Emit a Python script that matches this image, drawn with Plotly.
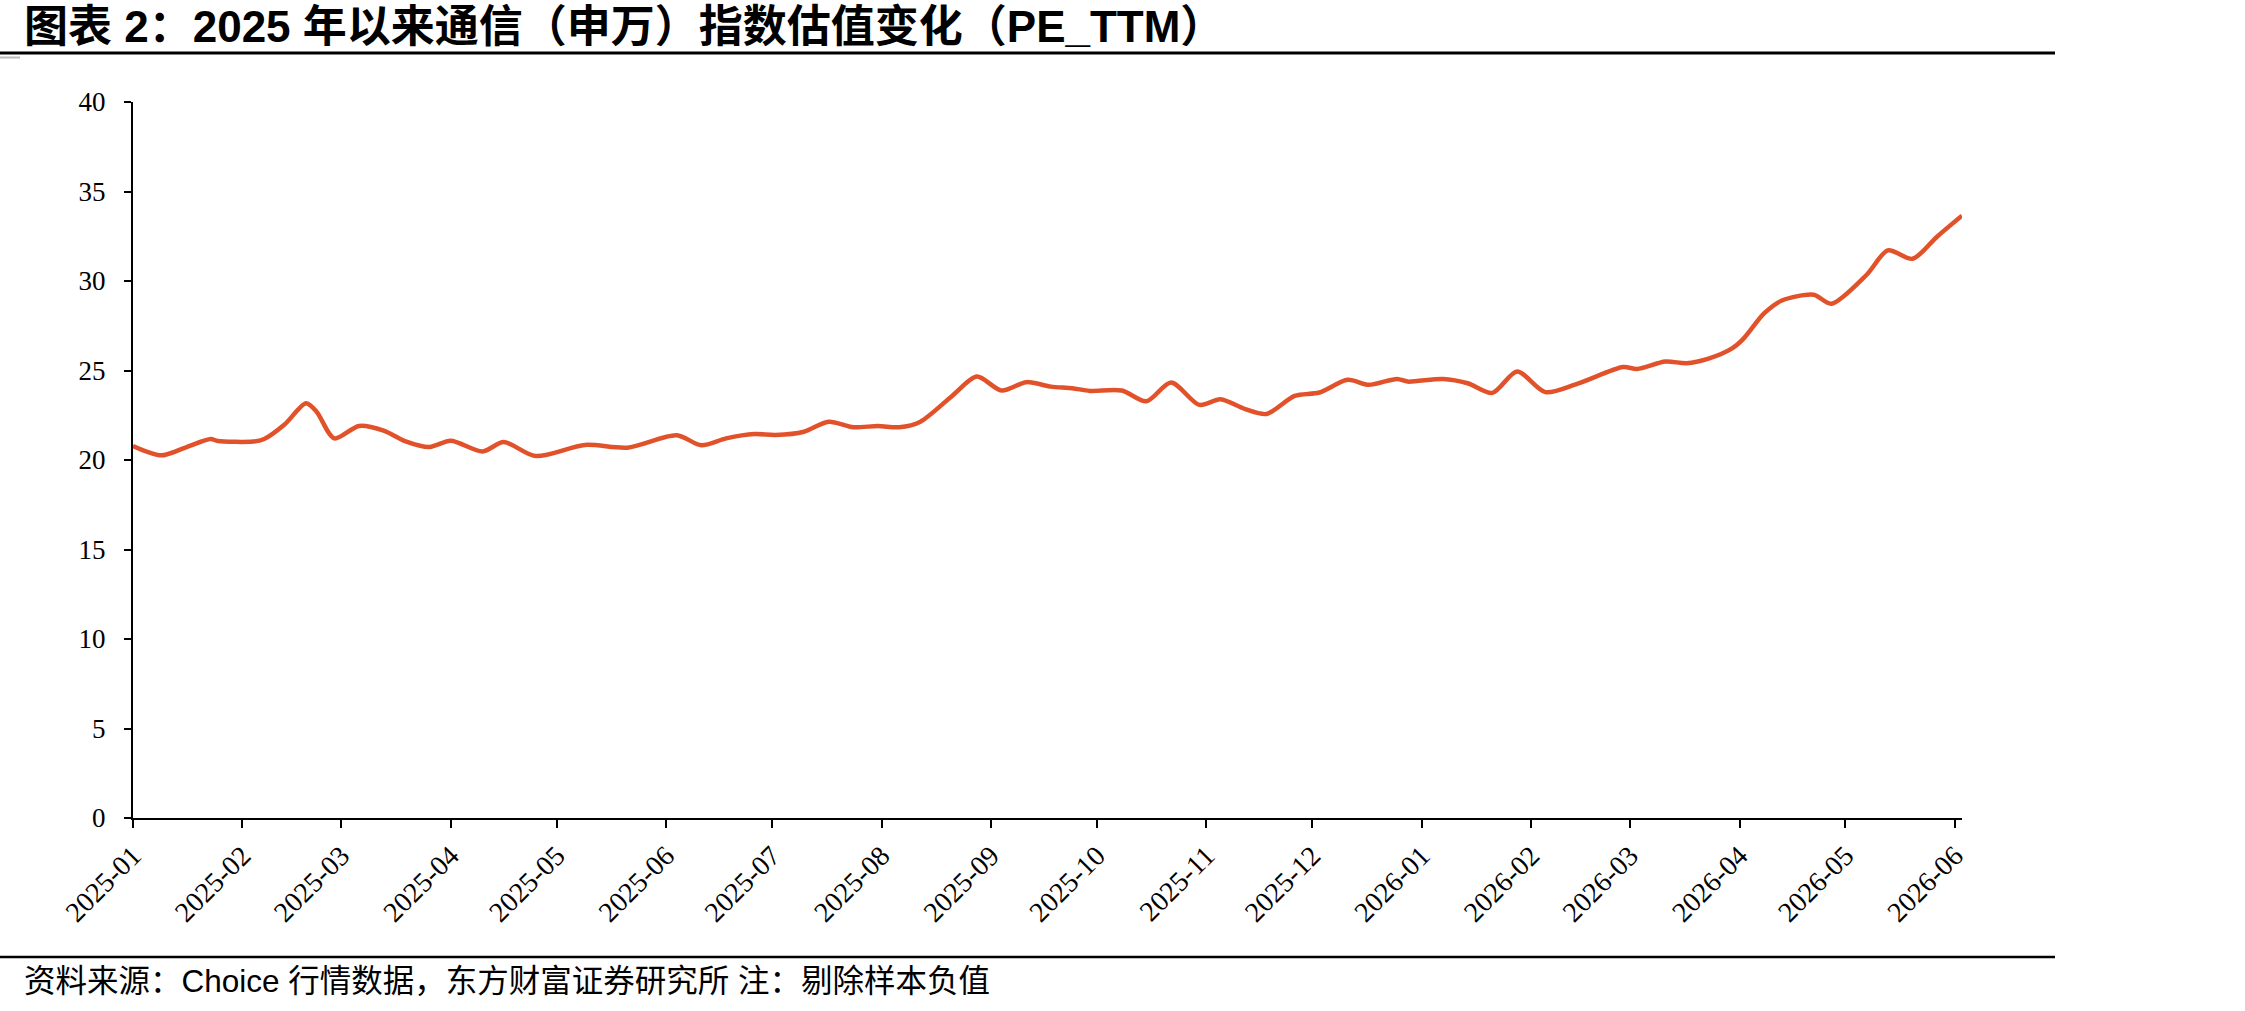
import plotly.graph_objects as go

# ---- data ----
dates = [
    "2025-01-01", "2025-01-09", "2025-01-16", "2025-01-23", "2025-01-25", "2025-02-04", "2025-02-07",
    "2025-02-13", "2025-02-19", "2025-02-22", "2025-02-27", "2025-03-06", "2025-03-13", "2025-03-19",
    "2025-03-26", "2025-04-01", "2025-04-10", "2025-04-16", "2025-04-25", "2025-05-09", "2025-05-21",
    "2025-06-04", "2025-06-11", "2025-06-18", "2025-06-26", "2025-07-02", "2025-07-10", "2025-07-17",
    "2025-07-24", "2025-07-31", "2025-08-06", "2025-08-12", "2025-08-21", "2025-08-28", "2025-09-04",
    "2025-09-11", "2025-09-18", "2025-09-24", "2025-09-29", "2025-10-08", "2025-10-15", "2025-10-22",
    "2025-10-30", "2025-11-05", "2025-11-12", "2025-11-18", "2025-11-26", "2025-12-03", "2025-12-11",
    "2025-12-17", "2025-12-25", "2025-12-28", "2026-01-07", "2026-01-14", "2026-01-21", "2026-01-28",
    "2026-02-05", "2026-02-14", "2026-02-27", "2026-03-03", "2026-03-11", "2026-03-17", "2026-03-23",
    "2026-03-30", "2026-04-02", "2026-04-08", "2026-04-13", "2026-04-22", "2026-04-27", "2026-05-07",
    "2026-05-13", "2026-05-20", "2026-05-27", "2026-06-03",
]
pe_ttm = [
    20.78, 20.26, 20.71, 21.17, 21.06, 21.03, 21.16,
    22.00, 23.17, 22.70, 21.21, 21.90, 21.64, 21.06,
    20.73, 21.08, 20.48, 21.00, 20.22, 20.84, 20.69,
    21.38, 20.82, 21.21, 21.45, 21.40, 21.58, 22.14,
    21.83, 21.90, 21.83, 22.14, 23.58, 24.66, 23.88,
    24.35, 24.10, 24.01, 23.86, 23.88, 23.28, 24.33,
    23.08, 23.39, 22.84, 22.57, 23.58, 23.77, 24.48,
    24.20, 24.53, 24.38, 24.53, 24.29, 23.75, 24.94,
    23.79, 24.25, 25.19, 25.09, 25.50, 25.41, 25.65,
    26.25, 26.75, 28.20, 28.91, 29.23, 28.73, 30.35,
    31.71, 31.24, 32.49, 33.65,
]
x_range = ["2025-01-01", "2026-06-03"]
y_range = [0, 40]

title_text = "图表 2：2025 年以来通信（申万）指数估值变化（PE_TTM）"
source_text = "资料来源：Choice 行情数据，东方财富证券研究所 注：剔除样本负值"

# ---- geometry (pixels) ----
W, H = 2245, 1011
L, R, T, B = 133, 283, 102, 193
pw, ph = W - L - R, H - T - B


def px(x):
    return (x - L) / pw


def py(y):
    return (H - B - y) / ph


fig = go.Figure()
fig.add_trace(go.Scatter(
    x=dates, y=pe_ttm, mode="lines",
    line=dict(color="#E2522A", width=4.5, shape="spline", smoothing=0.8),
    showlegend=False, hoverinfo="skip",
))

fig.update_layout(
    width=W, height=H,
    margin=dict(l=L, r=R, t=T, b=B, pad=0),
    paper_bgcolor="white", plot_bgcolor="white",
    xaxis=dict(
        type="date", range=x_range, dtick="M1", tick0="2025-01-01",
        tickformat="%Y-%m", tickangle=-45,
        showgrid=False, zeroline=False,
        showline=True, linecolor="black", linewidth=2,
        ticks="outside", ticklen=8, tickwidth=2, tickcolor="black",
        tickfont=dict(family="Liberation Serif", size=28, color="black"),
    ),
    yaxis=dict(
        range=y_range, dtick=5, tick0=0,
        showgrid=False, zeroline=False,
        showline=True, linecolor="black", linewidth=2,
        ticks="outside", ticklen=7, tickwidth=2, tickcolor="black",
        ticklabelstandoff=13,
        tickfont=dict(family="Liberation Serif", size=27, color="black"),
    ),
    annotations=[
        dict(text="<b>" + title_text + "</b>", xref="paper", yref="paper",
             x=px(22), y=py(27), xanchor="left", yanchor="middle", showarrow=False,
             font=dict(family="Liberation Sans, Noto Sans CJK SC", size=44, color="black")),
        dict(text=source_text, xref="paper", yref="paper",
             x=px(22), y=py(981), xanchor="left", yanchor="middle", showarrow=False,
             font=dict(family="Liberation Sans, Noto Sans CJK SC", size=31.5, color="black")),
    ],
    shapes=[
        dict(type="line", xref="paper", yref="paper", x0=px(0), x1=px(2055), y0=py(53), y1=py(53),
             line=dict(color="black", width=3)),
        dict(type="line", xref="paper", yref="paper", x0=px(0), x1=px(20), y0=py(57.5), y1=py(57.5),
             line=dict(color="#BBBBBB", width=2)),
        dict(type="line", xref="paper", yref="paper", x0=px(0), x1=px(2055), y0=py(957), y1=py(957),
             line=dict(color="black", width=2.5)),
    ],
)

fig.write_html("out.html")
